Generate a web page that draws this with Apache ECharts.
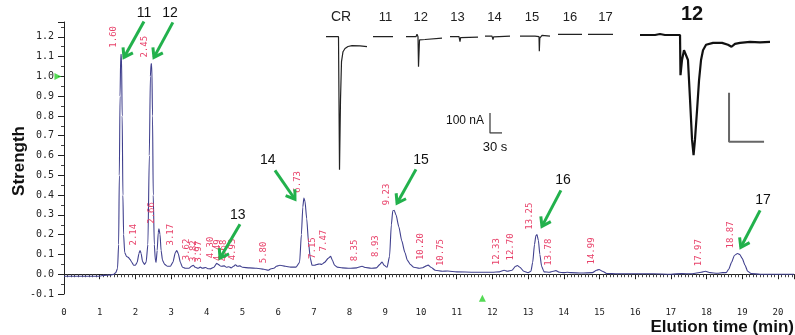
<!DOCTYPE html>
<html>
<head>
<meta charset="utf-8">
<script src="https://cdn.jsdelivr.net/npm/echarts@6/dist/echarts.min.js"></script>
<style>html,body{margin:0;padding:0;background:#fff}#chart{width:795px;height:335px}</style>
</head>
<body>
<div id="chart"></div>
<script>
// chromatogram: elution time (min), strength
var trace = [
  [0,-0.010],[0.5,-0.010],[1.0,-0.010],[1.1,-0.006],[1.3,-0.004],[1.4,0.000],[1.45,0.008],[1.5,0.030],
  [1.53,0.150],[1.55,0.500],[1.57,0.900],[1.59,1.110],[1.61,1.110],[1.63,0.800],[1.65,0.400],[1.67,0.200],
  [1.7,0.110],[1.75,0.090],[1.8,0.085],[1.85,0.075],[1.9,0.060],[1.95,0.045],[2.0,0.045],[2.05,0.060],
  [2.1,0.105],[2.13,0.120],[2.16,0.105],[2.2,0.065],[2.25,0.050],[2.3,0.060],[2.35,0.150],[2.39,0.600],
  [2.42,1.000],[2.44,1.065],[2.46,1.055],[2.48,0.800],[2.5,0.400],[2.53,0.150],[2.56,0.070],[2.58,0.060],
  [2.61,0.120],[2.64,0.210],[2.66,0.230],[2.69,0.200],[2.72,0.120],[2.76,0.070],[2.82,0.050],[2.9,0.040],
  [2.98,0.040],[3.05,0.060],[3.12,0.110],[3.16,0.120],[3.2,0.105],[3.26,0.060],[3.32,0.035],[3.4,0.030],
  [3.5,0.030],[3.57,0.040],[3.62,0.045],[3.68,0.035],[3.75,0.030],[3.82,0.036],[3.88,0.030],[3.97,0.034],
  [4.03,0.028],[4.1,0.027],[4.2,0.035],[4.28,0.055],[4.32,0.050],[4.4,0.040],[4.49,0.042],[4.55,0.035],
  [4.62,0.038],[4.68,0.032],[4.75,0.040],[4.8,0.048],[4.86,0.040],[4.93,0.042],[5.0,0.035],[5.2,0.032],
  [5.4,0.030],[5.6,0.025],[5.72,0.020],[5.8,0.028],[5.88,0.030],[5.95,0.040],[6.05,0.045],[6.2,0.040],
  [6.35,0.036],[6.5,0.036],[6.6,0.060],[6.65,0.200],[6.69,0.340],[6.72,0.385],[6.75,0.370],[6.8,0.280],
  [6.85,0.160],[6.9,0.080],[6.95,0.045],[7.02,0.045],[7.1,0.050],[7.15,0.052],[7.22,0.050],[7.3,0.060],
  [7.4,0.080],[7.47,0.090],[7.52,0.070],[7.58,0.045],[7.65,0.036],[7.8,0.032],[8.0,0.030],[8.2,0.032],
  [8.35,0.040],[8.45,0.034],[8.6,0.030],[8.75,0.032],[8.85,0.050],[8.91,0.062],[8.97,0.045],[9.05,0.035],
  [9.12,0.090],[9.17,0.250],[9.21,0.320],[9.25,0.323],[9.3,0.300],[9.38,0.240],[9.46,0.170],[9.55,0.110],
  [9.62,0.070],[9.7,0.050],[9.8,0.035],[9.95,0.030],[10.05,0.033],[10.15,0.042],[10.2,0.046],[10.28,0.035],
  [10.4,0.020],[10.6,0.015],[10.75,0.016],[11.0,0.012],[11.5,0.010],[12.0,0.010],[12.2,0.012],[12.33,0.020],
  [12.42,0.015],[12.55,0.020],[12.65,0.040],[12.7,0.044],[12.77,0.035],[12.88,0.015],[13.0,0.008],[13.08,0.015],
  [13.13,0.060],[13.18,0.150],[13.22,0.195],[13.25,0.200],[13.29,0.170],[13.33,0.100],[13.38,0.040],[13.45,0.012],
  [13.6,0.010],[13.7,0.015],[13.78,0.018],[13.88,0.010],[14.0,0.008],[14.1,0.010],[14.2,0.008],[14.5,0.006],
  [14.8,0.008],[14.92,0.020],[14.99,0.024],[15.08,0.015],[15.2,0.004],[15.5,0.002],[16.0,0.002],[16.5,0.002],
  [17.0,0.000],[17.3,0.003],[17.6,0.002],[17.85,0.010],[17.97,0.015],[18.1,0.008],[18.3,0.005],[18.45,0.008],
  [18.55,0.008],[18.62,0.025],[18.7,0.060],[18.78,0.095],[18.87,0.105],[18.93,0.100],[19.0,0.080],[19.08,0.045],
  [19.15,0.015],[19.25,0.003],[19.5,0.000],[20.0,0.000],[20.45,0.000]
];

// retention time labels and the peak height they sit on
var peakNames = ['1.60','2.14','2.45','2.66','3.17','3.62','3.82','3.97','4.30','4.49','4.68','4.93','5.80',
  '6.73','7.15','7.47','8.35','8.93','9.23','10.20','10.75','12.33','12.70','13.25','13.78','14.99','17.97','18.87'];
var peakHeights = [1.12,0.12,1.07,0.23,0.12,0.045,0.037,0.034,0.055,0.042,0.04,0.045,0.03,
  0.387,0.052,0.09,0.04,0.062,0.323,0.046,0.016,0.02,0.044,0.2,0.018,0.024,0.015,0.105];

// compound arrows (data units)
var arrowNames = ['11','12','13','14','15','16','17'];
var arrowFrom = [[2.24,1.278],[3.05,1.273],[4.93,0.253],[5.91,0.525],[9.86,0.530],[13.92,0.424],[19.5,0.323]];
var arrowTo = [[1.68,1.096],[2.52,1.096],[4.37,0.081],[6.47,0.379],[9.33,0.359],[13.39,0.242],[18.96,0.136]];
var arrowLabelAt = [[2.24,1.318],[2.97,1.318],[4.87,0.298],[5.71,0.576],[10.0,0.576],[13.98,0.475],[19.58,0.374]];

var yMarker = [[-0.17, 1.0]];
var xMarker = [[11.72, -0.121]];

// responses: time (s), current (nA)
var respCR = [[0,0],[31.25,0],[33.75,-665],[36.25,-315],[38.75,-125],[42.5,-75],[47.5,-59],[55,-49],[65,-45],[85,-46],[102.5,-50]];
var resp11 = [[0,0],[10,0],[12.5,3],[15,-2],[17.5,0],[50,0]];
var resp12 = [[0,0],[25,0],[27.5,13],[30,0],[31.25,-150],[33.75,-16],[37.5,-21],[47.5,-14],[90,-7]];
var resp13 = [[0,0],[22.5,0],[24,4],[25,-25],[26.5,-5],[30,-3],[70,-2]];
var resp14 = [[0,0],[17.5,0],[19,3],[20,-17],[21.5,-3],[62.5,0]];
var resp15 = [[0,0],[37.5,0],[39,5],[41,0],[47.5,-2],[48.3,-75],[49.5,-10],[52,-3],[55,4],[57,0],[75,0]];
var resp16 = [[0,0],[35,0],[36,-5],[37,3],[38,-8],[40,0],[60,0]];
var resp17 = [[0,0],[33,0],[34,5],[35,-3],[36,0],[62.5,0]];
var resp12Zoom = [[0,0],[12.9,0],[17.1,2],[21.4,0],[34.3,0],[34.7,-82],[36,-51],[37.7,-31],[39.4,-31],[41.1,-51],
  [42.9,-133],[44.6,-214],[45.9,-245],[47.1,-214],[48.9,-153],[50.6,-92],[52.3,-51],[54,-31],[56.6,-20],[62.6,-16],
  [70.3,-16],[75.4,-20],[78.4,-24],[81.4,-18],[85.7,-16],[94.3,-14],[102.8,-15],[111.4,-14]];
var barNA = 100, barS = 30;

var green = '#22b14c';
var myChart = echarts.init(document.getElementById('chart'));

var grids = [{left: 64, right: 1, top: 22, bottom: 41, outerBoundsMode: 'none', containLabel: false}];
var xAxes = [{
  type: 'value', min: 0, max: 20.45, interval: 1, offset: 2,
  axisLine: {lineStyle: {color: '#222'}},
  axisTick: {length: 5, lineStyle: {color: '#222'}},
  minorTick: {show: true, splitNumber: 10, length: 3, lineStyle: {color: '#444'}},
  splitLine: {show: false},
  axisLabel: {showMaxLabel: false, margin: 12, fontFamily: 'DejaVu Sans Mono', fontSize: 9, color: '#222'}
}];
var yAxes = [{
  type: 'value', min: -0.1, max: 1.275, interval: 0.1,
  axisLine: {show: true, lineStyle: {color: '#222'}},
  axisTick: {length: 6, lineStyle: {color: '#222'}},
  minorTick: {show: true, splitNumber: 2, length: 3, lineStyle: {color: '#444'}},
  splitLine: {show: false},
  axisLabel: {showMaxLabel: false, margin: 10, fontFamily: 'DejaVu Sans Mono', fontSize: 10, color: '#222',
    formatter: function (v) { return v.toFixed(1); }}
}];
var series = [
  {type: 'line', data: trace, showSymbol: false, smooth: 0.2, smoothMonotone: 'x',
   lineStyle: {color: '#40408e', width: 1.1}, z: 3},
  {type: 'scatter', data: yMarker, symbol: 'triangle', symbolRotate: -90, symbolSize: 7, clip: false,
   itemStyle: {color: '#2bd12b'}},
  {type: 'scatter', data: xMarker, symbol: 'triangle', symbolSize: 7, clip: false,
   itemStyle: {color: '#2bd12b'}}
];

// small response insets: 2.5 s and 5 nA per pixel
var insets = [
  {name: 'CR', data: respCR, left: 326, base: 36.7, width: 41, labelX: 341},
  {name: '11', data: resp11, left: 373, base: 36.7, width: 20, labelX: 385.5},
  {name: '12', data: resp12, left: 406, base: 36.7, width: 36, labelX: 420.7},
  {name: '13', data: resp13, left: 450, base: 36.7, width: 28, labelX: 457.5},
  {name: '14', data: resp14, left: 485, base: 36.2, width: 25, labelX: 494.5},
  {name: '15', data: resp15, left: 520, base: 36.2, width: 30, labelX: 532},
  {name: '16', data: resp16, left: 558, base: 34.3, width: 24, labelX: 570},
  {name: '17', data: resp17, left: 588, base: 34.3, width: 25, labelX: 605.5}
];
function addGrid(g, x, y, s) {
  var i = grids.length;
  g.outerBoundsMode = 'none';
  grids.push(g);
  xAxes.push({type: 'value', gridIndex: i, min: x[0], max: x[1], show: false});
  yAxes.push({type: 'value', gridIndex: i, min: y[0], max: y[1], show: false});
  series.push({type: 'line', xAxisIndex: i, yAxisIndex: i, data: s.data, showSymbol: false,
    lineStyle: s.style, silent: true});
}
insets.forEach(function (c) {
  addGrid({left: c.left, top: c.base - 10, width: c.width, height: 150},
    [0, c.width * 2.5], [-700, 50], {data: c.data, style: {color: '#222', width: 1.2}});
});
// scale bar of the small insets
addGrid({left: 490, top: 113, width: 12, height: 20}, [0, barS], [-barNA, 0],
  {data: [[0, 0], [0, -barNA], [barS, -barNA]], style: {color: '#444', width: 1.3}});
// enlarged response of 12
addGrid({left: 640, top: 25, width: 130, height: 135}, [0, 111.4], [-255, 20.4],
  {data: resp12Zoom, style: {color: '#111', width: 2.2}});
var zb = [76.3, -118];
series.push({type: 'line', xAxisIndex: grids.length - 1, yAxisIndex: grids.length - 1, showSymbol: false,
  data: [[zb[0], zb[1]], [zb[0], zb[1] - barNA], [zb[0] + barS, zb[1] - barNA]],
  lineStyle: {color: '#666', width: 2}});

myChart.setOption({
  animation: false,
  backgroundColor: '#fff',
  grid: grids, xAxis: xAxes, yAxis: yAxes, series: series
});

var gfx = [];
var txt = function (x, y, s, size, extra, rot) {
  var st = {text: s, x: 0, y: 0, fontFamily: 'Liberation Sans', fontSize: size, fill: '#111',
    align: 'center', verticalAlign: 'middle'};
  for (var k in extra) st[k] = extra[k];
  gfx.push({type: 'text', x: x, y: y, rotation: rot || 0, style: st, z: 20});
};
insets.forEach(function (c) { txt(c.labelX, 17.5, c.name, c.name === 'CR' ? 14 : 13, {fill: '#222'}); });
txt(692, 14, '12', 20, {fontWeight: 'bold'});
txt(484, 121, '100 nA', 12, {align: 'right'});
txt(495, 147, '30 s', 13, {});
txt(794, 327, 'Elution time (min)', 17, {align: 'right', fontWeight: 'bold'});
txt(19, 161, 'Strength', 17, {fontWeight: 'bold'}, Math.PI / 2);

// retention time labels
peakNames.forEach(function (n, i) {
  var p = myChart.convertToPixel({gridIndex: 0}, [parseFloat(n), peakHeights[i]]);
  gfx.push({type: 'text', x: p[0] - 7, y: p[1] - 5, rotation: Math.PI / 2, z: 15,
    style: {text: n, fontFamily: 'DejaVu Sans Mono', fontSize: 9, fill: '#e8426a',
      align: 'left', verticalAlign: 'middle'}});
});

// arrows
arrowNames.forEach(function (n, i) {
  var a = myChart.convertToPixel({gridIndex: 0}, arrowFrom[i]);
  var b = myChart.convertToPixel({gridIndex: 0}, arrowTo[i]);
  var dx = a[0] - b[0], dy = a[1] - b[1], L = Math.sqrt(dx * dx + dy * dy);
  dx /= L; dy /= L;
  var h = 10, ang = 0.6;
  var h1 = [b[0] + h * (dx * Math.cos(ang) - dy * Math.sin(ang)), b[1] + h * (dx * Math.sin(ang) + dy * Math.cos(ang))];
  var h2 = [b[0] + h * (dx * Math.cos(-ang) - dy * Math.sin(-ang)), b[1] + h * (dx * Math.sin(-ang) + dy * Math.cos(-ang))];
  gfx.push({type: 'line', z: 18, shape: {x1: a[0], y1: a[1], x2: b[0], y2: b[1]},
    style: {stroke: green, lineWidth: 3}});
  gfx.push({type: 'polyline', z: 18, shape: {points: [h1, b, h2]},
    style: {stroke: green, lineWidth: 3, fill: null, lineJoin: 'miter'}});
  var t = myChart.convertToPixel({gridIndex: 0}, arrowLabelAt[i]);
  txt(t[0], t[1], n, 14, {});
});

myChart.setOption({graphic: gfx});
window.addEventListener('resize', function () { myChart.resize(); });
</script>
</body>
</html>
